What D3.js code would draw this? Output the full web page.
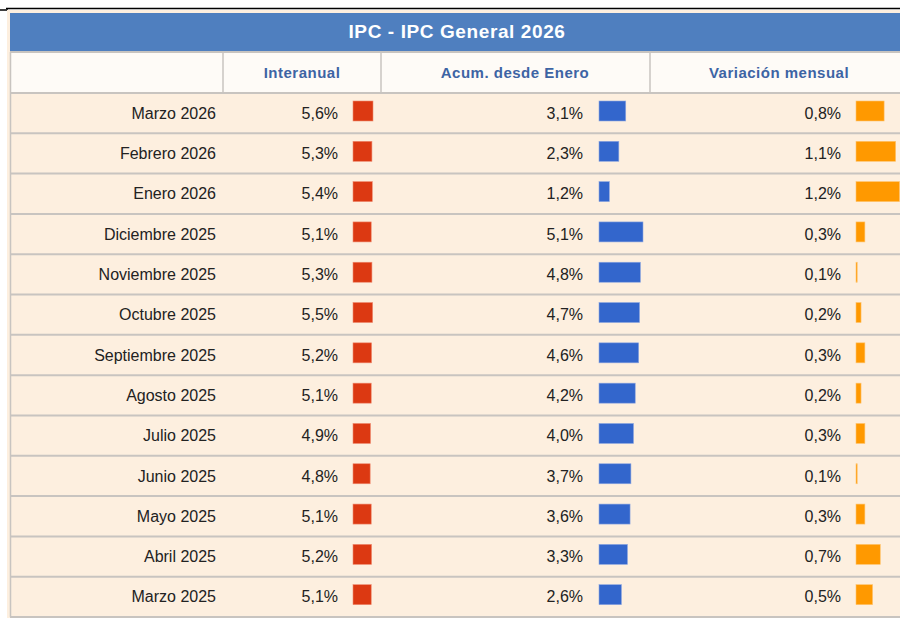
<!DOCTYPE html>
<html>
<head>
<meta charset="utf-8">
<script src="https://cdn.jsdelivr.net/npm/d3@7"></script>
<style>
  html, body { margin: 0; padding: 0; background: #fff; }
  svg { display: block; }
</style>
</head>
<body>
<div id="chart"></div>
<script>
// datos de la tabla
const title = "IPC - IPC General 2026";
const columns = ["Interanual", "Acum. desde Enero", "Variación mensual"];
const months = ["Marzo 2026", "Febrero 2026", "Enero 2026", "Diciembre 2025", "Noviembre 2025",
  "Octubre 2025", "Septiembre 2025", "Agosto 2025", "Julio 2025", "Junio 2025",
  "Mayo 2025", "Abril 2025", "Marzo 2025"];
const interanual = [5.6, 5.3, 5.4, 5.1, 5.3, 5.5, 5.2, 5.1, 4.9, 4.8, 5.1, 5.2, 5.1];
const acumulado = [3.1, 2.3, 1.2, 5.1, 4.8, 4.7, 4.6, 4.2, 4.0, 3.7, 3.6, 3.3, 2.6];
const mensual = [0.8, 1.1, 1.2, 0.3, 0.1, 0.2, 0.3, 0.2, 0.3, 0.1, 0.3, 0.7, 0.5];

const width = 900, height = 618;
const font = "'Liberation Sans', Arial, Helvetica, sans-serif";

const svg = d3.select("#chart")
  .append("svg")
  .attr("width", width)
  .attr("height", height);

// linea negra superior
svg.append("line").attr("x1", 0).attr("x2", 8).attr("y1", 10).attr("y2", 10)
  .attr("stroke", "#000").attr("stroke-width", 1.5);
svg.append("line").attr("x1", 6).attr("x2", width).attr("y1", 8.5).attr("y2", 8.5)
  .attr("stroke", "#000").attr("stroke-width", 1.5);

// fondo de la tabla
svg.append("rect").attr("x", 7).attr("y", 10).attr("width", width - 7).attr("height", height - 10)
  .attr("fill", "#fdefdf");

// columnas: limites
const colEdges = [10, 223, 381, 650, 905];
const headerCenters = [302, 515, 779];

// filas
const headerTop = 52, bodyTop = 93, bodyBottom = 617;
const y = d3.scaleBand().domain(months).range([bodyTop, bodyBottom]);

// titulo
svg.append("rect").attr("x", 10).attr("y", 13).attr("width", width - 10).attr("height", headerTop - 13)
  .attr("fill", "#4f7fbf");
svg.append("text")
  .attr("x", 457).attr("y", 31.5)
  .attr("dy", "0.35em")
  .attr("text-anchor", "middle")
  .attr("fill", "#fff")
  .style("font-family", font).style("font-weight", "bold").style("font-size", "19px")
  .style("letter-spacing", "0.6px")
  .text(title);

// cabecera
svg.append("rect").attr("x", 11).attr("y", headerTop).attr("width", width - 11).attr("height", bodyTop - headerTop)
  .attr("fill", "#fefbf7");
svg.selectAll(".hdr-line")
  .data(colEdges.slice(1, 4))
  .enter().append("line")
  .attr("x1", d => d).attr("x2", d => d)
  .attr("y1", headerTop).attr("y2", bodyTop)
  .attr("stroke", "#c8c4c0").attr("stroke-width", 1.5);
svg.selectAll(".hdr-text")
  .data(columns)
  .enter().append("text")
  .attr("x", (d, i) => headerCenters[i])
  .attr("y", 73)
  .attr("dy", "0.35em")
  .attr("text-anchor", "middle")
  .attr("fill", "#3d64a4")
  .style("font-family", font).style("font-weight", "bold").style("font-size", "15px")
  .style("letter-spacing", "0.5px")
  .text(d => d);

// bordes horizontales
const lineYs = [headerTop, bodyTop].concat(months.slice(1).map(m => y(m)), [bodyBottom]);
svg.selectAll(".row-line")
  .data(lineYs)
  .enter().append("line")
  .attr("x1", 10).attr("x2", width)
  .attr("y1", d => d).attr("y2", d => d)
  .attr("stroke", "#c8c4c0").attr("stroke-width", 2);

// borde izquierdo
svg.append("line").attr("x1", 10.5).attr("x2", 10.5).attr("y1", headerTop).attr("y2", bodyBottom)
  .attr("stroke", "#c8c4c0").attr("stroke-width", 1.5);

// etiquetas de meses
svg.selectAll(".month")
  .data(months)
  .enter().append("text")
  .attr("x", 216)
  .attr("y", d => y(d) + y.bandwidth() / 2)
  .attr("dy", "0.35em")
  .attr("text-anchor", "end")
  .attr("fill", "#222")
  .style("font-family", font).style("font-size", "16px")
  .text(d => d);

// escalas de barras
const series = [
  { values: interanual, textX: 338, barX: 353, color: "#dc3912", stroke: "#ef8a70",
    scale: d3.scaleLinear().domain([0, 5.6]).range([0, 20]) },
  { values: acumulado, textX: 583, barX: 599, color: "#3366cc", stroke: "#8fa8e0",
    scale: d3.scaleLinear().domain([0, 5.1]).range([0, 44]) },
  { values: mensual, textX: 841, barX: 856, color: "#ff9900", stroke: "#ffc46e",
    scale: d3.scaleLinear().domain([0.1, 1.2]).range([1.2, 43.5]) }
];

const fmt = v => d3.format(".1f")(v).replace(".", ",") + "%";

series.forEach(function (s) {
  const g = svg.append("g");
  g.selectAll("text")
    .data(s.values)
    .enter().append("text")
    .attr("x", s.textX)
    .attr("y", (d, i) => y(months[i]) + y.bandwidth() / 2)
    .attr("dy", "0.35em")
    .attr("text-anchor", "end")
    .attr("fill", "#222")
    .style("font-family", font).style("font-size", "16px")
    .text(d => fmt(d));
  g.selectAll("rect")
    .data(s.values)
    .enter().append("rect")
    .attr("x", s.barX)
    .attr("y", (d, i) => y(months[i]) + 8)
    .attr("width", d => s.scale(d))
    .attr("height", 20)
    .attr("fill", s.color)
    .attr("stroke", s.stroke)
    .attr("stroke-width", 0.6);
});
</script>
</body>
</html>
